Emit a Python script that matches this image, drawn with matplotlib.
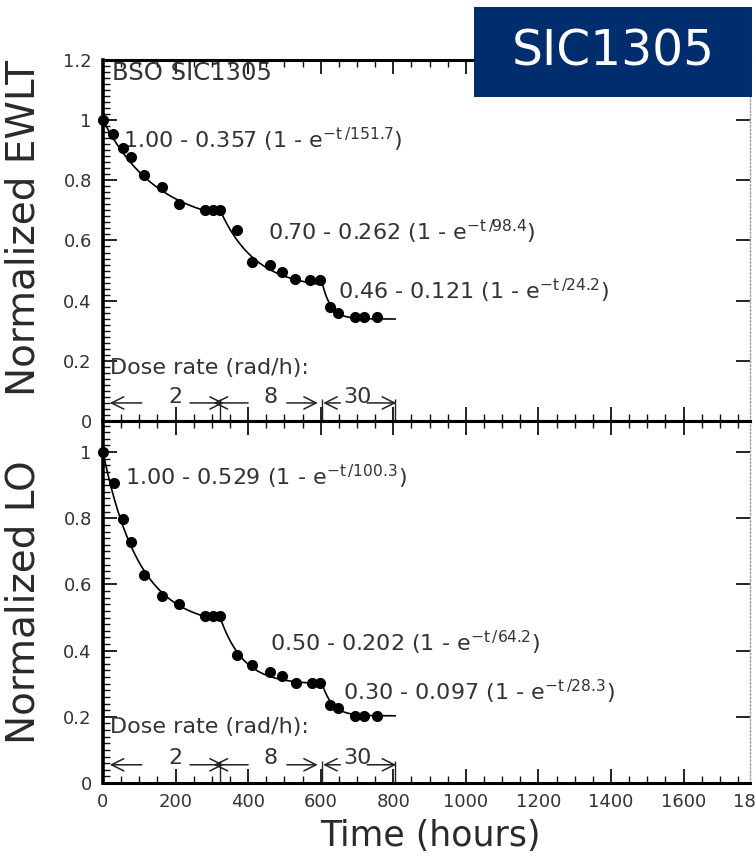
import numpy as np
import matplotlib.pyplot as plt
from matplotlib.patches import Rectangle
from matplotlib.ticker import MultipleLocator, FuncFormatter

# measured points (irradiation time in hours, normalized value)
t_ewlt = [0, 28, 54, 77, 114, 162, 210, 280, 303, 323, 370, 410, 461, 493, 530, 571, 599, 626, 649, 695, 718, 755]
ewlt = [1.0, 0.953, 0.906, 0.879, 0.818, 0.779, 0.721, 0.701, 0.701, 0.701, 0.635, 0.530, 0.517, 0.496, 0.472, 0.469, 0.469,
        0.380, 0.360, 0.345, 0.345, 0.347]
t_lo = [0, 30, 56, 77, 114, 162, 210, 281, 304, 323, 370, 410, 461, 493, 532, 576, 599, 626, 649, 695, 718, 755]
lo = [1.0, 0.908, 0.798, 0.728, 0.630, 0.565, 0.542, 0.504, 0.504, 0.504, 0.388, 0.358, 0.335, 0.322, 0.302, 0.302, 0.302,
      0.236, 0.228, 0.203, 0.203, 0.203]

# dose-rate periods (hours) and exponential fit of each period
period_edges = [0, 323, 604, 805]
dose_rates = ['2', '8', '30']
ewlt_a = [1.00, 0.70, 0.46]
ewlt_b = [0.357, 0.262, 0.121]
ewlt_tau = [151.7, 98.4, 24.2]
lo_a = [1.00, 0.50, 0.30]
lo_b = [0.529, 0.202, 0.097]
lo_tau = [100.3, 64.2, 28.3]

TXT = '#333333'


def fit_label(a, b, tau):
    return r'%.2f - %.3f (1 - $\mathregular{e^{-t\,/%.1f}}$)' % (a, b, tau)


def draw_fits(ax, a, b, tau, label_pos):
    for i in range(3):
        t0, t1 = period_edges[i], period_edges[i + 1]
        t = np.linspace(t0, t1, 200)
        y = a[i] - b[i] * (1 - np.exp(-(t - t0) / tau[i]))
        ax.plot(t, y, color='k', lw=1.2, zorder=3)
        ax.text(label_pos[i][0], label_pos[i][1], fit_label(a[i], b[i], tau[i]),
                fontsize=16, color=TXT, va='center', ha='left')


def draw_dose_rates(ax, y_title, y_arrow):
    ax.text(20, y_title, 'Dose rate (rad/h):', fontsize=16, color=TXT, va='center', ha='left')
    # left tip, left tail, right tail, right tip, label centre
    spans = [(19, 107, 240, 333, 199), (305, 400, 507, 592, 461), (607, 654, 728, 808, 700)]
    arrow = dict(arrowstyle='->', lw=1.1, color='#222222', mutation_scale=22, shrinkA=0, shrinkB=0)
    for (lt, ltail, rtail, rt, xc), rate in zip(spans, dose_rates):
        ax.annotate('', xy=(lt, y_arrow), xytext=(ltail, y_arrow), arrowprops=arrow)
        ax.annotate('', xy=(rt, y_arrow), xytext=(rtail, y_arrow), arrowprops=arrow)
        ax.text(xc, y_arrow + 0.02, rate, fontsize=16, color=TXT, ha='center', va='center')
    ax.vlines(period_edges[1:], 0, y_arrow + 0.012, color='#222222', lw=1.0)


def style_axes(ax, ymax):
    ax.set_xlim(0, 1783)
    ax.set_ylim(0, ymax)
    ax.xaxis.set_major_locator(MultipleLocator(200))
    ax.xaxis.set_minor_locator(MultipleLocator(50))
    ax.yaxis.set_major_locator(MultipleLocator(0.2))
    ax.yaxis.set_minor_locator(MultipleLocator(0.02))
    ax.yaxis.set_major_formatter(FuncFormatter(lambda v, p: '%g' % round(v, 2)))
    ax.tick_params(which='both', direction='in', top=True, bottom=True, left=True, right=False,
                   labelsize=13, labelcolor=TXT, color='#111111')
    ax.tick_params(which='major', length=10, width=1.3, right=True)
    ax.tick_params(which='minor', length=5, width=1.0)
    ax.tick_params(axis='y', pad=8)
    ax.tick_params(axis='x', pad=7)
    ax.spines['left'].set_linewidth(2.6)
    ax.spines['bottom'].set_linewidth(2.2)
    ax.spines['top'].set_linewidth(2.2)
    ax.spines['right'].set_linestyle(':')
    ax.spines['right'].set_color('#999999')
    ax.spines['right'].set_linewidth(1.0)


fig = plt.figure(figsize=(7.56, 8.59), dpi=100)
ax1 = fig.add_axes([0.1362, 0.5099, 0.8558, 0.4203])
ax2 = fig.add_axes([0.1362, 0.0885, 0.8558, 0.4214])

# top panel: EWLT
style_axes(ax1, 1.2)
ax1.tick_params(labelbottom=False)
ax1.plot(t_ewlt, ewlt, 'o', color='k', ms=7, zorder=4, clip_on=False)
draw_fits(ax1, ewlt_a, ewlt_b, ewlt_tau, [(55, 0.934), (456, 0.628), (649, 0.432)])
draw_dose_rates(ax1, 0.176, 0.06)
ax1.text(25, 1.195, 'BSO SIC1305', fontsize=17.5, color=TXT, va='top', ha='left')
ax1.set_ylabel('Normalized EWLT', fontsize=28, color='#2a2a2a')
ax1.yaxis.set_label_coords(-0.093, 0.535)

# bottom panel: light output
style_axes(ax2, 1.094)
ax2.plot(t_lo, lo, 'o', color='k', ms=7, zorder=4, clip_on=False)
draw_fits(ax2, lo_a, lo_b, lo_tau, [(61, 0.924), (461, 0.424), (662, 0.276)])
draw_dose_rates(ax2, 0.17, 0.055)
ax2.set_ylabel('Normalized LO', fontsize=28, color='#2a2a2a')
ax2.yaxis.set_label_coords(-0.093, 0.5)
ax2.set_xlabel('Time (hours)', fontsize=25, color='#2a2a2a')
ax2.xaxis.set_label_coords(0.506, -0.1)
# last tick label sits past the clipped right edge of the axis
ax2.text(1800, -0.027, '1800', transform=ax2.get_xaxis_transform(), fontsize=13, color=TXT,
         ha='center', va='top', clip_on=False)

# sample tag
fig.add_artist(Rectangle((0.627, 0.887), 0.368, 0.105, transform=fig.transFigure,
                         facecolor='#002d6e', edgecolor='none', zorder=10))
fig.text(0.811, 0.9395, 'SIC1305', color='white', fontsize=35, ha='center', va='center', zorder=11)

fig.savefig('out.png', dpi=100)
